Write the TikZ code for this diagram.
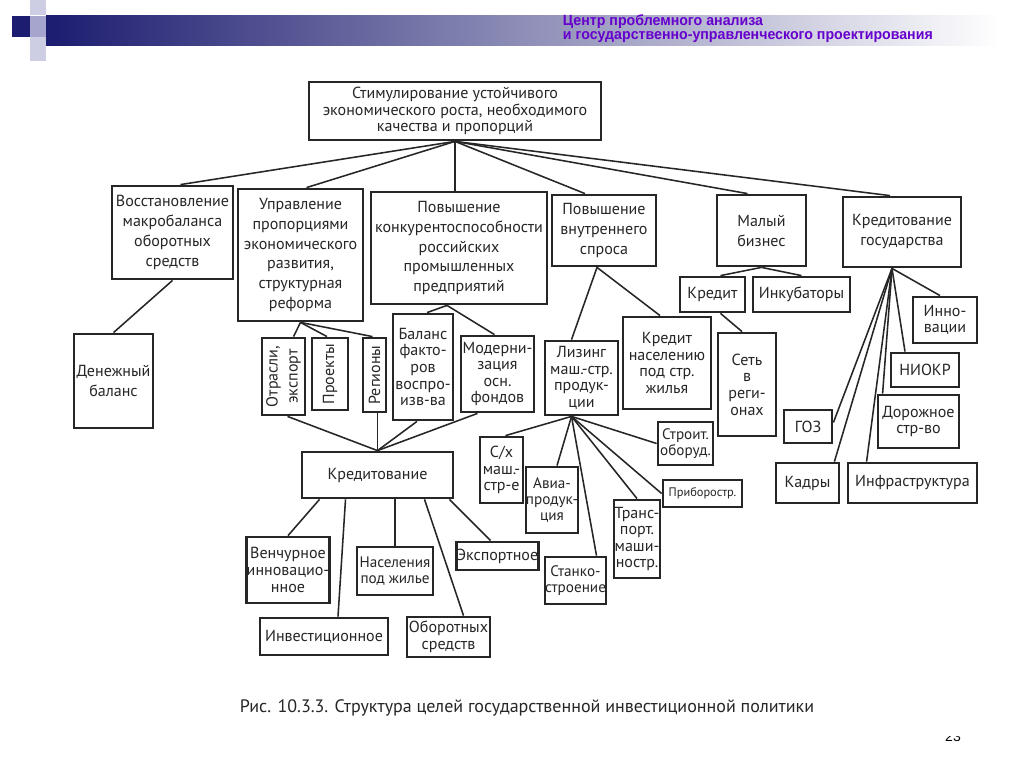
\documentclass[tikz,border=0pt]{standalone}
\usepackage{fontspec}
\usetikzlibrary{calc}
\newfontfamily\diagfont{PT Sans}
\newfontfamily\headfont{Liberation Sans}[FakeStretch=0.96]
\newfontfamily\pagefont{Liberation Sans}
\definecolor{ink}{RGB}{38,38,38}
\definecolor{navy}{RGB}{28,28,112}
\definecolor{lav}{RGB}{165,165,205}
\definecolor{lavlight}{RGB}{205,205,228}
\definecolor{hdviolet}{RGB}{102,0,204}

\tikzset{
  blk/.style={draw=ink, line width=2pt, align=center, inner sep=0pt, text=ink,
    font=\diagfont\fontsize{11.4}{11.8}\selectfont},
  loose/.style={font=\diagfont\fontsize{11.4}{14.2}\selectfont},
  tight/.style={font=\diagfont\fontsize{10.8}{11.4}\selectfont},
  sz/.style 2 args={minimum width=#1*0.025cm, minimum height=#2*0.025cm},
  link/.style={draw=ink, line width=1.1pt},
}

\begin{document}
\begin{tikzpicture}[x=0.025cm, y=-0.025cm]
    \useasboundingbox (0,0) rectangle (1024,768);
    \fill[white] (0,0) rectangle (1024,768);

    % header of the slide
    \fill[lavlight] (30,0) rectangle (46,15);
    \fill[navy] (12,16) rectangle (30,37);
    \fill[lav] (30,16) rectangle (46,37);
    \fill[lavlight] (30,37) rectangle (46,61);
    \shade[left color=navy, right color=white] (46,16) rectangle (1000,46);
    \node[anchor=west, text=hdviolet, font=\headfont\bfseries\fontsize{10.5}{10}\selectfont, align=left]
        (head) at (558,29) {Центр проблемного анализа\\и государственно-управленческого проектирования};

    % top level
    \node[blk, sz={292}{58}] (top) at (455,111)
        {Стимулирование устойчивого\\экономического роста, необходимого\\качества и пропорций};

    % first row
    \node[blk, loose, sz={121}{93}] (vosst) at (172.5,232.5)
        {Восстановление\\макробаланса\\оборотных\\средств};
    \node[blk, loose, sz={125}{132}] (upr) at (300.5,255)
        {Управление\\пропорциями\\экономического\\развития,\\структурная\\реформа};
    \node[blk, loose, sz={176}{112}] (konk) at (459,248)
        {Повышение\\конкурентоспособности\\российских\\промышленных\\предприятий};
    \node[blk, loose, sz={104}{71}] (vnutr) at (604,230.5)
        {Повышение\\внутреннего\\спроса};
    \node[blk, loose, sz={89}{71}] (malyi) at (761.5,230.5) {Малый\\бизнес};
    \node[blk, loose, sz={118}{70}] (kgos) at (902,232) {Кредитование\\государства};

    % second row
    \node[blk, loose, sz={79}{94}] (denezh) at (113.5,381) {Денежный\\баланс};
    \node[blk, loose, rotate=90, sz={77}{43}] (otrasli) at (283.5,376.5) {Отрасли,\\экспорт};
    \node[blk, rotate=90, sz={72}{36}] (proekty) at (330,374) {Проекты};
    \node[blk, rotate=90, sz={74}{23}] (regiony) at (374.5,375) {Регионы};
    \node[blk, sz={60}{106}] (balans) at (423,367) {Баланс\\факто-\\ров\\воспро-\\изв-ва};
    \node[blk, sz={73}{76}] (modern) at (497.5,374) {Модерни-\\зация\\осн.\\фондов};
    \node[blk, sz={73}{74}] (lizing) at (581.5,378) {Лизинг\\маш.-стр.\\продук-\\ции};
    \node[blk, sz={88}{92}] (krednas) at (667,363) {Кредит\\населению\\под стр.\\жилья};
    \node[blk, sz={65}{35}] (kredit) at (712.5,294.5) {Кредит};
    \node[blk, sz={97}{35}] (inkub) at (801.5,294.5) {Инкубаторы};
    \node[blk, sz={58}{103}] (set) at (747,384.5) {Сеть\\в\\реги-\\онах};

    % state credit branch
    \node[blk, sz={64}{46}] (innov) at (945,320) {Инно-\\вации};
    \node[blk, sz={68}{34}] (niokr) at (925,370) {НИОКР};
    \node[blk, sz={81}{53}] (doroga) at (918.5,421.5) {Дорожное\\стр-во};
    \node[blk, sz={48}{33}] (goz) at (808,426.5) {ГОЗ};
    \node[blk, sz={63}{40}] (kadry) at (807.5,483) {Кадры};
    \node[blk, sz={129}{40}] (infra) at (912.5,483) {Инфраструктура};

    % leasing branch
    \node[blk, sz={43}{66}] (sh) at (501.5,470) {С/х\\маш.-\\стр-е};
    \node[blk, tight, sz={50}{66}] (avia) at (552,500) {Авиа-\\продук-\\ция};
    \node[blk, tight, sz={59}{47}] (stanko) at (575.5,580.5) {Станко-\\строение};
    \node[blk, sz={46}{78}] (transp) at (637,539) {Транс-\\порт.\\маши-\\ностр.};
    \node[blk, font=\diagfont\fontsize{8.8}{9}\selectfont, sz={79}{27}] (pribor) at (702.5,493.5) {Приборостр.};
    \node[blk, tight, sz={55}{43}] (stroit) at (685.5,443.5) {Строит.\\оборуд.};

    % crediting branch
    \node[blk, sz={151}{46}] (kredmid) at (377.5,475) {Кредитование};
    \node[blk, sz={80}{66}] (vench) at (288,570) {Венчурное\\инновацио-\\нное};
    \node[blk, tight, sz={76}{48}] (nasel) at (395,571) {Населения\\под жилье};
    \node[blk, sz={81}{28}] (eksport) at (497.5,556) {Экспортное};
    \node[blk, sz={128}{37}] (invest) at (324,636.5) {Инвестиционное};
    \node[blk, sz={83}{40}] (oborot) at (448.5,637) {Оборотных\\средств};

    % connectors from the top
    \draw[link] (top.south) -- ($(vosst.north)+(8,0)$);
    \draw[link] (top.south) -- ($(upr.north)+(6,0)$);
    \draw[link] (top.south) -- (top.south |- konk.north);
    \draw[link] (top.south) -- ($(vnutr.north)+(-19,0)$);
    \draw[link] (top.south) -- ($(malyi.north)+(-14,0)$);
    \draw[link] (top.south) -- ($(kgos.north)+(-12,0)$);

    \draw[link] (vosst.south) -- (denezh.north);

    \draw[link] (upr.south) -- ($(otrasli.east)+(10,0)$);
    \draw[link] (upr.south) -- ($(proekty.east)+(-3,0)$);
    \draw[link] (upr.south) -- ($(regiony.east)+(-2,0)$);

    \draw[link] (konk.south) ++(-12,0) -- ($(balans.north)+(4,0)$);
    \draw[link] (konk.south) ++(-12,0) -- ($(modern.north)+(-3,0)$);

    \draw[link] (otrasli.west) ++(4,0) -- (kredmid.north);
    \draw[link] (regiony.west) ++(3,0) -- (kredmid.north);
    \draw[link] (balans.south) ++(-6,0) -- (kredmid.north);
    \draw[link] (modern.south) ++(-20,0) -- (kredmid.north);

    \draw[link] (vnutr.south) ++(-7,0) -- ($(lizing.north)+(-10,0)$);
    \draw[link] (vnutr.south) ++(-7,0) -- ($(krednas.north)+(-7,0)$);

    \draw[link] (lizing.south) ++(-10,0) -- ($(sh.north)+(4,0)$);
    \draw[link] (lizing.south) ++(-10,0) -- ($(avia.north)+(5,0)$);
    \draw[link] (lizing.south) ++(-10,0) -- ($(stanko.north)+(21,0)$);
    \draw[link] (lizing.south) ++(-10,0) -- (transp.north);
    \draw[link] (lizing.south) ++(-10,0) -- (pribor.west);
    \draw[link] (lizing.south) ++(-10,0) -- (stroit.west);

    \draw[link] (malyi.south) -- ($(kredit.north)+(8,0)$);
    \draw[link] (malyi.south) -- (inkub.north);
    \draw[link] (kredit.south) ++(8,0) -- ($(set.north)+(-5,0)$);

    \draw[link] (kgos.south) ++(-10,0) -- ($(innov.north)+(-5,0)$);
    \draw[link] (kgos.south) ++(-10,0) -- ($(niokr.north)+(-20,0)$);
    \draw[link] (kgos.south) ++(-10,0) -- ($(doroga.north west)+(6,0)$);
    \draw[link] (kgos.south) ++(-10,0) -- ($(infra.north west)+(20,0)$);
    \draw[link] (kgos.south) ++(-10,0) -- ($(kadry.north east)+(-6,0)$);
    \draw[link] (kgos.south) ++(-10,0) -- ($(goz.east)+(0,-4)$);

    \draw[link] (kredmid.south) ++(-58,0) -- (vench.north);
    \draw[link] (kredmid.south) ++(-32,0) -- ($(invest.north)+(14,0)$);
    \draw[link] (kredmid.south) ++(17,0) -- (nasel.north |- kredmid.south) -- (nasel.north);
    \draw[link] (kredmid.south) ++(47,0) -- ($(oborot.north)+(15,0)$);
    \draw[link] (kredmid.south) ++(72,0) -- ($(eksport.north)+(-7,0)$);

    % caption and page number
    \node[text=ink, font=\diagfont\fontsize{12.8}{13}\selectfont] (caption) at (527,708)
        {Рис. 10.3.3. Структура целей государственной инвестиционной политики};
    \begin{scope}
        \clip (930,736) rectangle (975,750);
        \node[font=\pagefont\fontsize{10}{10}\selectfont] (pagenum) at (953,737) {23};
    \end{scope}
\end{tikzpicture}
\end{document}
